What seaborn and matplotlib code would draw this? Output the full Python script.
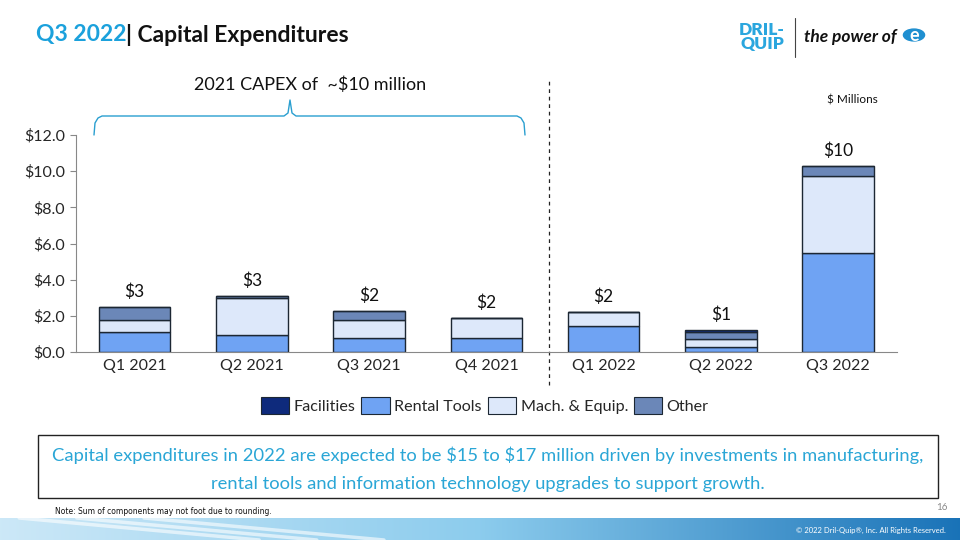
import matplotlib.pyplot as plt
import numpy as np
import pandas as pd
import seaborn as sns
from matplotlib.lines import Line2D
from matplotlib.patches import Rectangle, Circle, Patch

# data ($ millions)
quarters = ["Q1 2021", "Q2 2021", "Q3 2021", "Q4 2021", "Q1 2022", "Q2 2022", "Q3 2022"]
rental_tools = [1.10, 0.94, 0.76, 0.80, 1.42, 0.30, 5.45]
mach_equip = [0.67, 2.03, 1.00, 1.10, 0.80, 0.40, 4.28]
other = [0.73, 0.15, 0.52, 0.00, 0.00, 0.40, 0.55]
facilities = [0.00, 0.00, 0.00, 0.00, 0.00, 0.10, 0.00]
total_labels = ["$3", "$3", "$2", "$2", "$2", "$1", "$10"]
yticks = [0, 2, 4, 6, 8, 10, 12]

layers = [
    ("Rental Tools", rental_tools, "#6fa3f3"),
    ("Mach. & Equip.", mach_equip, "#dde8fa"),
    ("Other", other, "#6b87b8"),
    ("Facilities", facilities, "#0e2a7c"),
]
legend_order = ["Facilities", "Rental Tools", "Mach. & Equip.", "Other"]

sns.set_style("white")
plt.rcParams["font.family"] = ["Lato", "DejaVu Sans"]
plt.rcParams["text.parse_math"] = False

fig = plt.figure(figsize=(9.6, 5.4), dpi=100)
ax = fig.add_axes([0.0792, 0.348, 0.855, 0.402])

df = pd.DataFrame({"quarter": quarters})
bottom = np.zeros(len(quarters))
colors = {}
for name, vals, col in layers:
    df["v"] = vals
    sns.barplot(data=df, x="quarter", y="v", color=col, width=0.61,
                bottom=bottom.copy(), edgecolor="#1c2733", linewidth=1.0,
                saturation=1, ax=ax)
    bottom = bottom + np.array(vals)
    colors[name] = col

for i, lab in enumerate(total_labels):
    ax.annotate(lab, (i, bottom[i]), xytext=(0, 5), textcoords="offset points",
                ha="center", va="bottom", fontsize=12.5, color="#111111")

ax.set_xlim(-0.5, 6.5)
ax.set_ylim(0, 12)
ax.set_yticks(yticks)
ax.set_yticklabels([f"${t:.1f}" for t in yticks], fontsize=11.5)
ax.set_xticks(range(len(quarters)))
ax.set_xticklabels(quarters, fontsize=11.5)
ax.set_xlabel("")
ax.set_ylabel("")
sns.despine(ax=ax)
ax.spines["left"].set_color("#888888")
ax.spines["bottom"].set_color("#888888")
ax.tick_params(axis="y", length=4, color="#888888", pad=4, direction="out", left=True)
ax.tick_params(axis="x", length=0, pad=5)

# dashed separator between 2021 and 2022
ax.plot([3.53, 3.53], [-1.8, 15.0], ls=(0, (3, 3)), color="#222222", lw=0.9, clip_on=False)

# legend
handles = [Patch(facecolor=colors[n], edgecolor="#1c2733", linewidth=0.8) for n in legend_order]
fig.legend(handles, legend_order, loc="center", bbox_to_anchor=(0.505, 0.249), ncol=4,
           frameon=False, fontsize=11.6, handlelength=1.75, handleheight=1.25,
           handletextpad=0.3, columnspacing=0.35)

W, H = 960, 540


def fx(px):
    return px / W


def fy(py):
    return 1 - py / H


# title
t1 = fig.text(fx(36), fy(35), "Q3 2022", color="#1ba1dc", fontsize=16.5, fontweight="bold", va="center")
fig.canvas.draw()
bb = t1.get_window_extent()
fig.text(bb.x1 / W, fy(35), "| Capital Expenditures", color="#111111", fontsize=16.5,
         fontweight="bold", va="center")

# brace over 2021
bc = "#2a9fd0"
xs = [94, 95, 98, 102, 284, 288, 290, 292, 296, 517, 521, 524, 525]
ys = [135, 123, 118, 116, 116, 113, 100, 113, 116, 116, 118, 123, 135]
fig.add_artist(Line2D([fx(x) for x in xs], [fy(y) for y in ys], color=bc, lw=1.0))
fig.text(fx(310), fy(85), "2021 CAPEX of  ~$10 million", ha="center", va="center",
         fontsize=13, color="#111111")
fig.text(fx(852), fy(100), "$ Millions", ha="center", va="center", fontsize=8.5, color="#111111")

# logo
fig.text(fx(762), fy(37), "DRIL-\nQUIP", ha="center", va="center", fontsize=12.5,
         fontweight="heavy", color="#2aa6de", linespacing=0.8)
fig.add_artist(Line2D([fx(795), fx(795)], [fy(18), fy(57)], color="#444444", lw=0.8))
fig.text(fx(804), fy(37), "the power of", ha="left", va="center", fontsize=12.5,
         fontweight="bold", fontstyle="italic", color="#111111")
fig.add_artist(Circle((fx(914), fy(35)), 0.011, transform=fig.transFigure, color="#1f8fd0"))
fig.text(fx(914), fy(35.5), "e", ha="center", va="center", fontsize=13, fontweight="bold",
         color="white")

# text box
fig.add_artist(Rectangle((fx(38), fy(498)), fx(938) - fx(38), fy(435) - fy(498),
                         transform=fig.transFigure, fill=False, edgecolor="#222222", lw=1.0))
fig.text(fx(488), fy(455), "Capital expenditures in 2022 are expected to be $15 to $17 million "
         "driven by investments in manufacturing,", ha="center", va="center",
         fontsize=13.2, color="#2aa6d6")
fig.text(fx(488), fy(484), "rental tools and information technology upgrades to support growth.",
         ha="center", va="center", fontsize=13.2, color="#2aa6d6")

# footer
fig.text(fx(55), fy(512), "Note: Sum of components may not foot due to rounding.", ha="left",
         va="center", fontsize=5.5, color="#111111", family=["Liberation Sans Narrow", "DejaVu Sans"])
fig.text(fx(948), fy(508), "16", ha="right", va="center", fontsize=7, color="#888888")

band = fig.add_axes([0, 0, 1, 22 / H])
grad = np.linspace(0, 1, 400)
cols = np.array([[0.80, 0.91, 0.97], [0.55, 0.80, 0.93], [0.10, 0.45, 0.72]])
img = np.zeros((1, 400, 3))
for k in range(3):
    img[0, :, k] = np.interp(grad, [0, 0.5, 1], cols[:, k])
band.imshow(img, aspect="auto", extent=[0, 1, 0, 1])
for x0 in [0.02, 0.08, 0.15]:
    band.plot([x0, x0 + 0.25], [1.0, 0.0], color="white", lw=2.5, alpha=0.6)
band.set_xlim(0, 1)
band.set_ylim(0, 1)
band.axis("off")
fig.text(fx(946), fy(530), "\u00a9 2022 Dril-Quip\u00ae, Inc. All Rights Reserved.", ha="right",
         va="center", fontsize=5.5, color="white")

fig.savefig("out.png", dpi=100)
